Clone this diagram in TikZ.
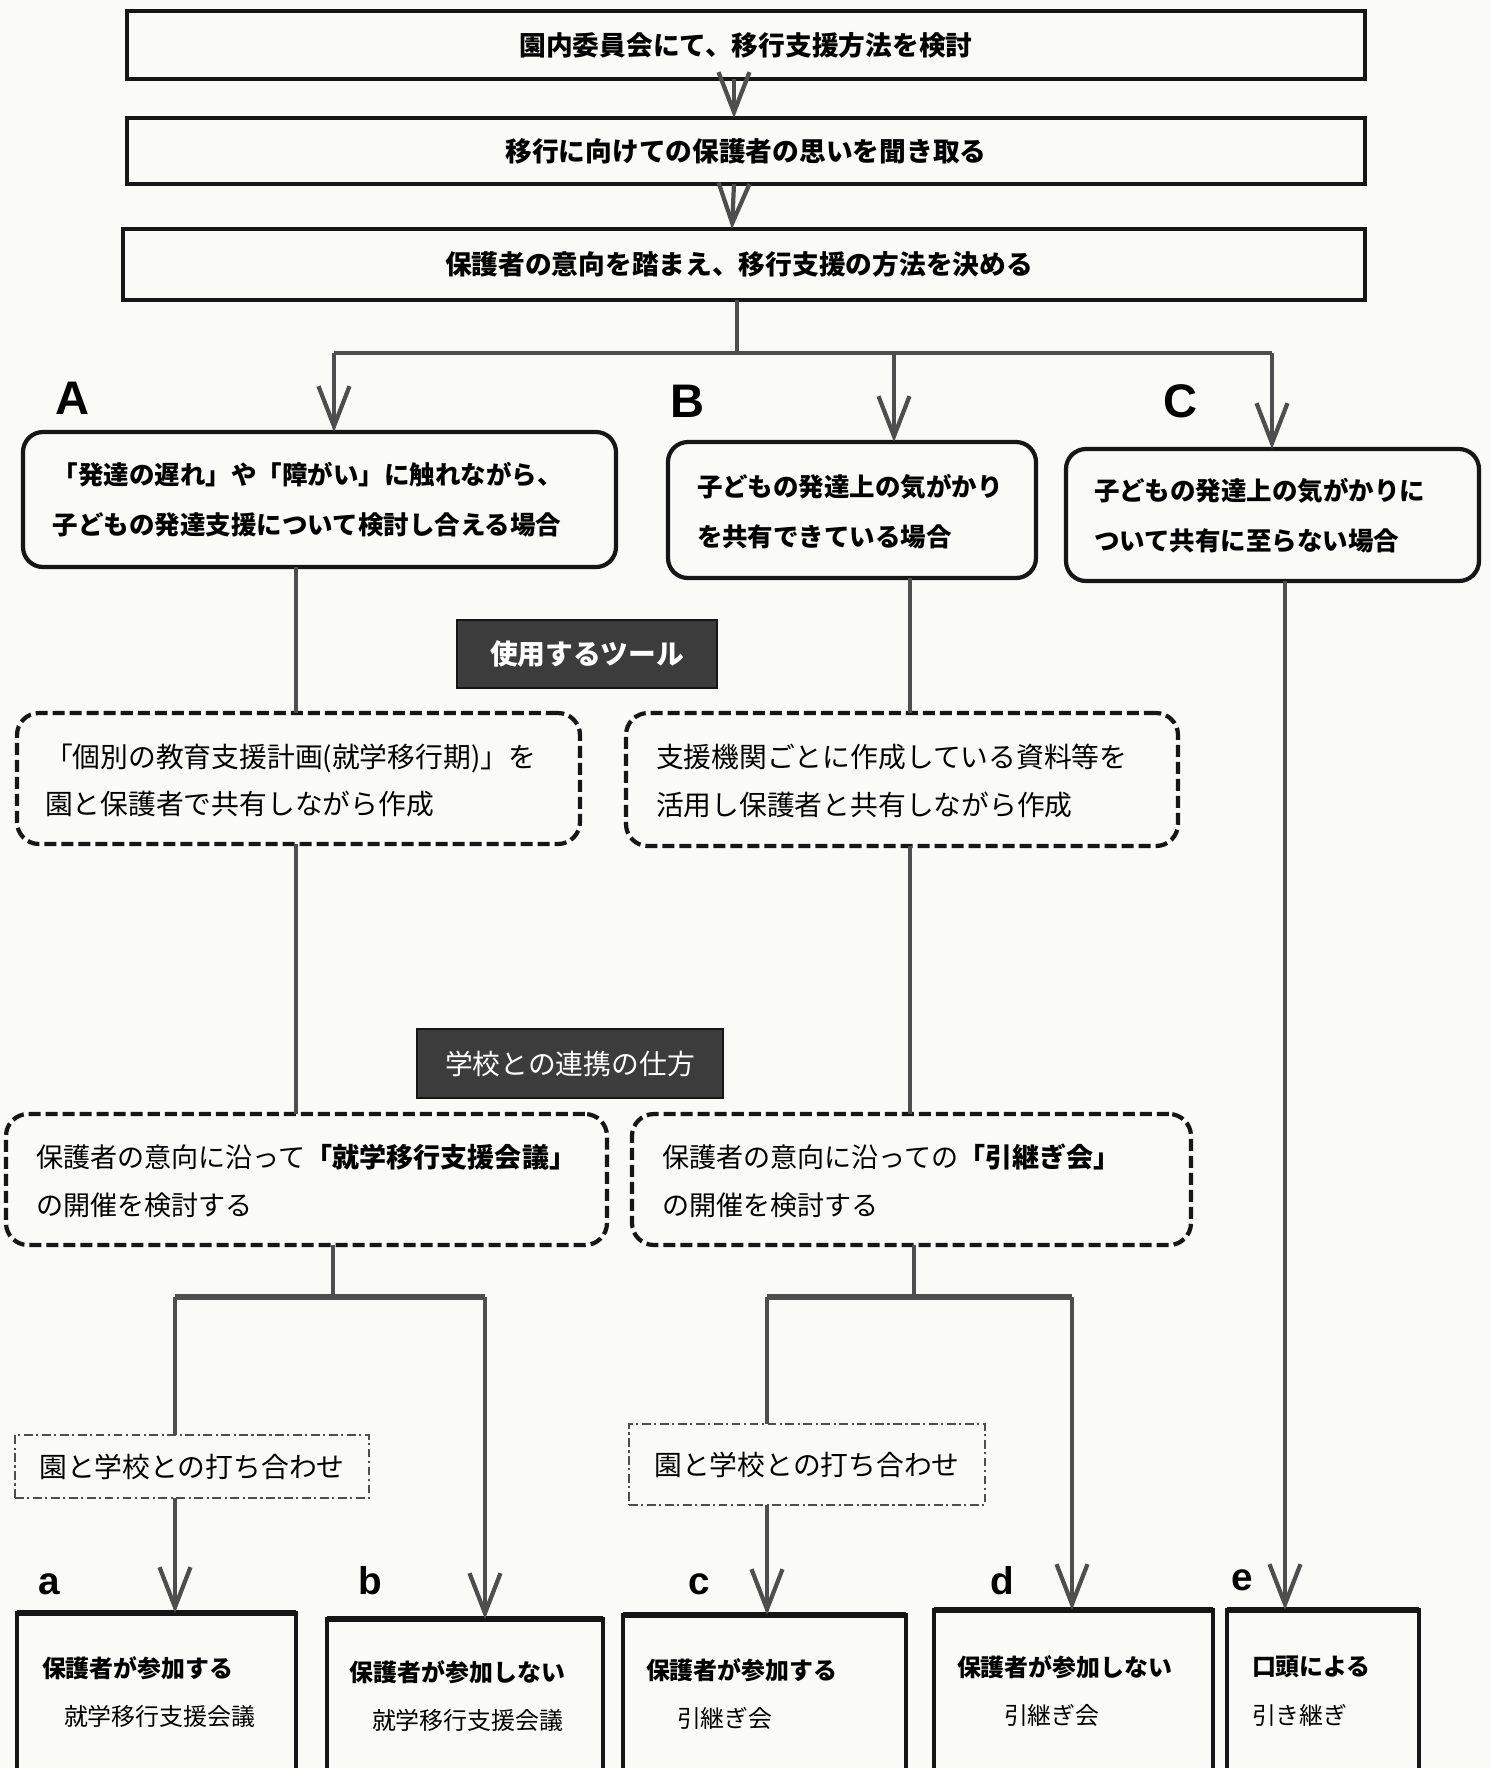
\documentclass[tikz,border=0pt]{standalone}
\usepackage{fontspec}
\usetikzlibrary{arrows.meta,fit}
\newfontfamily\jp{Noto Sans CJK JP}
\newfontfamily\lab{Liberation Sans}
\definecolor{bgc}{HTML}{FAFAF7}
\definecolor{boxc}{HTML}{161616}
\definecolor{linec}{HTML}{4E4E4E}
\definecolor{tagc}{HTML}{3C3C3C}
\begin{document}
\begin{tikzpicture}[x=0.01cm,y=-0.01cm,
  every node/.style={inner sep=0pt,outer sep=0pt},
  sqbox/.style={draw=boxc,line width=1.1pt},
  rbox/.style={draw=boxc,line width=1.2pt,rounded corners=0.2cm},
  dbox/.style={draw=boxc,line width=1.2pt,rounded corners=0.22cm,dash pattern=on 0.12cm off 0.05cm},
  ddbox/.style={draw=linec,line width=0.5pt,dash pattern=on 2.5pt off 1pt on 0.6pt off 1pt},
  tagbox/.style={draw=boxc,fill=tagc,line width=0.8pt},
  endbox/.style={draw=boxc,line width=1.1pt},
  conn/.style={draw=linec,line width=1.2pt},
  arr/.style={conn,-{Straight Barb[length=0.40cm,width=0.31cm,line width=1.2pt]}},
  lbl/.style={font=\lab\bfseries\fontsize{13.4}{14}\selectfont,anchor=base},
  slbl/.style={font=\lab\bfseries\fontsize{11}{12}\selectfont,anchor=base},
  ttl/.style={font=\jp\bfseries\fontsize{7.6}{9}\selectfont},
  cse/.style={font=\jp\bfseries\fontsize{7.25}{14.2}\selectfont,align=left,anchor=west},
  dtx/.style={font=\jp\fontsize{7.9}{13.4}\selectfont,align=left,anchor=west},
  btx/.style={font=\jp\fontsize{6.8}{13.9}\selectfont,align=left,anchor=west}
]
\fill[bgc] (0,0) rectangle (1490,1768);
\useasboundingbox (0,0) rectangle (1490,1768);
\clip (0,0) rectangle (1490,1768);

% top boxes
\node[sqbox,fit={(127,11) (1365,79)}] (b1) {};
\node[sqbox,fit={(127,118) (1365,184)}] (b2) {};
\node[sqbox,fit={(123,229) (1365,300)}] (b3) {};
\node[ttl] (t1) at (b1.center) {園内委員会にて、移行支援方法を検討};
\node[ttl] (t2) at (b2.center) {移行に向けての保護者の思いを聞き取る};
\node[ttl] (t3) at ([xshift=-0.05cm]b3.center) {保護者の意向を踏まえ、移行支援の方法を決める};
\draw[arr] ([xshift=-0.12cm]b1.south) -- ([xshift=-0.12cm]b2.north);
\draw[arr] ([xshift=-0.12cm]b2.south) -- ([xshift=-0.12cm]b3.north);

% case boxes
\node[rbox,fit={(23,432) (616,567)}] (bA) {};
\node[rbox,fit={(668,442) (1036,578)}] (bB) {};
\node[rbox,fit={(1066,449) (1479,581)}] (bC) {};
\node[cse] (tA) at (53,500) {「発達の遅れ」や「障がい」に触れながら、\\子どもの発達支援について検討し合える場合};
\node[cse] (tB) at (697,512) {子どもの発達上の気がかり\\を共有できている場合};
\node[cse] (tC) at (1094,516) {子どもの発達上の気がかりに\\ついて共有に至らない場合};
\node[lbl] (LA) at (73,414) {A};
\node[lbl] (LB) at (688,417) {B};
\node[lbl] (LC) at (1181,417) {C};

% split
\coordinate (j0) at (737,353);
\coordinate (jA) at (334,353);
\coordinate (jB) at (894,353);
\coordinate (jC) at (1272,353);
\draw[conn] (j0 |- b3.south) -- (j0);
\draw[conn] (jA) -- (jC);
\draw[arr] (jA) -- (jA |- bA.north);
\draw[arr] (jB) -- (jB |- bB.north);
\draw[arr] (jC) -- (jC |- bC.north);

% tools
\node[tagbox,fit={(457,620) (717,688)}] (tag1) {};
\node[text=white,font=\jp\bfseries\fontsize{7.9}{9}\selectfont] (tg1) at (tag1.center) {使用するツール};
\node[dbox,fit={(17,713) (580,844)}] (A2) {};
\node[dbox,fit={(626,713) (1178,846)}] (B2) {};
\node[dtx] (tA2) at (45,780) {「個別の教育支援計画(就学移行期)」を\\園と保護者で共有しながら作成};
\node[dtx] (tB2) at (656,781) {支援機関ごとに作成している資料等を\\活用し保護者と共有しながら作成};

\coordinate (xA) at (296,0);
\coordinate (xB) at (910,0);
\coordinate (xC) at (1285,0);
\draw[conn] (xA |- bA.south) -- (xA |- A2.north);
\draw[conn] (xB |- bB.south) -- (xB |- B2.north);

% cooperation
\node[tagbox,fit={(417,1029) (723,1098)}] (tag2) {};
\node[text=white,font=\jp\fontsize{7.9}{9}\selectfont] (tg2) at (tag2.center) {学校との連携の仕方};
\node[dbox,fit={(6,1114) (607,1245)}] (A3) {};
\node[dbox,fit={(632,1114) (1191,1245)}] (B3) {};
\node[dtx,font=\jp\fontsize{7.7}{13.7}\selectfont] (tA3) at (36,1181) {保護者の意向に沿って{\bfseries「就学移行支援会議」}\\の開催を検討する};
\node[dtx,font=\jp\fontsize{7.7}{13.7}\selectfont] (tB3) at (662,1181) {保護者の意向に沿っての{\bfseries「引継ぎ会」}\\の開催を検討する};
\draw[conn] (xA |- A2.south) -- (xA |- A3.north);
\draw[conn] (xB |- B2.south) -- (xB |- B3.north);

% meeting boxes
\node[ddbox,fit={(15,1435) (369,1498)}] (m1) {};
\node[ddbox,fit={(629,1424) (985,1505)}] (m2) {};
\node[font=\jp\fontsize{7.9}{9}\selectfont] (tm1) at (m1.center) {園と学校との打ち合わせ};
\node[font=\jp\fontsize{7.9}{9}\selectfont] (tm2) at (m2.center) {園と学校との打ち合わせ};

% bottom boxes
\node[endbox,fit={(17,1613) (296,1800)}] (ea) {};
\node[endbox,fit={(327,1619) (603,1800)}] (eb) {};
\node[endbox,fit={(623,1615) (906,1800)}] (ec) {};
\node[endbox,fit={(934,1610) (1213,1800)}] (ed) {};
\node[endbox,fit={(1227,1610) (1419,1800)}] (ee) {};
\draw[boxc,line width=1.8pt] (ea.north west) -- (ea.north east);
\draw[boxc,line width=1.8pt] (eb.north west) -- (eb.north east);
\draw[boxc,line width=1.8pt] (ec.north west) -- (ec.north east);
\draw[boxc,line width=1.8pt] (ed.north west) -- (ed.north east);
\draw[boxc,line width=1.8pt] (ee.north west) -- (ee.north east);
\node[btx] (ta) at (42,1692) {{\bfseries 保護者が参加する}\\\hspace*{0.22cm}就学移行支援会議};
\node[btx] (tb) at (350,1696) {{\bfseries 保護者が参加しない}\\\hspace*{0.22cm}就学移行支援会議};
\node[btx] (tc) at (646,1694) {{\bfseries 保護者が参加する}\\\hspace*{0.31cm}引継ぎ会};
\node[btx] (td) at (957,1691) {{\bfseries 保護者が参加しない}\\\hspace*{0.47cm}引継ぎ会};
\node[btx] (te) at (1252,1691) {{\bfseries 口頭による}\\引き継ぎ};
\node[slbl] (La) at (49,1594) {a};
\node[slbl] (Lb) at (370,1594) {b};
\node[slbl] (Lc) at (699,1594) {c};
\node[slbl] (Ld) at (1002,1594) {d};
\node[slbl] (Le) at (1242,1590) {e};

% branches
\coordinate (kA) at (333,1297);
\coordinate (kAl) at (175,1297);
\coordinate (kAr) at (485,1297);
\coordinate (kB) at (914,1297);
\coordinate (kBl) at (767,1297);
\coordinate (kBr) at (1072,1297);
\draw[conn] (kA |- A3.south) -- (kA);
\draw[conn,line width=1.6pt] (kAl) -- (kAr);
\draw[conn] (kAl) -- (kAl |- m1.north);
\draw[arr] (kAl |- m1.south) -- (kAl |- ea.north);
\draw[arr] (kAr) -- (kAr |- eb.north);
\draw[conn] (kB |- B3.south) -- (kB);
\draw[conn,line width=1.6pt] (kBl) -- (kBr);
\draw[conn] (kBl) -- (kBl |- m2.north);
\draw[arr] (kBl |- m2.south) -- (kBl |- ec.north);
\draw[arr] (kBr) -- (kBr |- ed.north);
\draw[arr] (xC |- bC.south) -- (xC |- ee.north);
\end{tikzpicture}
\end{document}
